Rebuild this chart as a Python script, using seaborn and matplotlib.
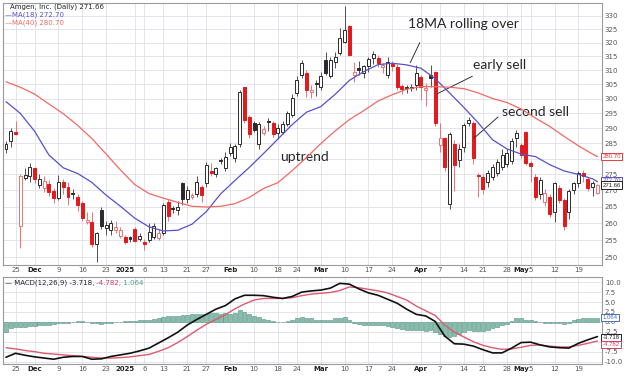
import numpy as np
import pandas as pd
import matplotlib
matplotlib.use("Agg")
import matplotlib.pyplot as plt
import matplotlib.transforms as mtransforms
from matplotlib.ticker import FixedLocator, NullLocator, FuncFormatter
import seaborn as sns

# trading days on the chart (market holidays removed)
holidays = ["2024-11-28", "2024-12-25", "2025-01-01", "2025-01-09",
            "2025-01-20", "2025-02-17", "2025-04-18"]
dates = pd.bdate_range("2024-11-21", "2025-05-23", freq="C", holidays=holidays)

open_px = [283.2, 285.7, 288.7, 259.2, 273.9, 274.4, 277.0, 271.7, 270.8, 272.0,
           269.8, 267.7, 272.6, 271.0, 269.2, 267.9, 266.1, 260.4, 260.3, 253.8,
           263.9, 258.6, 257.9, 258.0, 256.2, 255.9, 255.9, 258.4, 255.4, 254.3,
           254.9, 255.9, 255.6, 257.1, 266.4, 264.7, 263.9, 272.2, 267.2, 267.8,
           268.8, 271.0, 272.2, 276.0, 275.0, 279.6, 277.0, 281.7, 280.3, 284.9,
           304.0, 293.9, 291.7, 284.9, 288.5, 292.3, 291.9, 288.5, 288.8, 291.4,
           294.4, 301.9, 308.3, 309.0, 302.4, 305.3, 304.2, 313.7, 307.8, 313.1,
           316.1, 320.4, 326.0, 308.3, 310.7, 309.0, 311.5, 314.4, 314.4, 311.3,
           308.3, 312.1, 311.3, 304.3, 303.9, 303.7, 304.8, 307.7, 303.1, 308.3,
           309.5, 284.4, 286.6, 265.9, 284.9, 279.5, 283.7, 291.7, 291.9, 274.7,
           274.3, 272.7, 274.3, 275.5, 277.4, 278.4, 279.3, 286.6, 284.4, 288.8,
           278.6, 274.3, 269.0, 266.5, 267.9, 263.3, 270.6, 266.9, 263.3, 270.0,
           272.2, 275.5, 273.7, 271.0, 269.3]
high_px = [285.7, 290.2, 292.3, 275.0, 277.0, 278.5, 277.4, 275.0, 274.5, 273.1,
           270.8, 274.9, 273.6, 272.6, 270.3, 268.9, 266.6, 263.4, 263.4, 257.5,
           264.8, 260.6, 261.0, 260.6, 258.8, 256.6, 256.3, 258.8, 257.0, 255.2,
           260.0, 260.2, 258.4, 266.1, 267.4, 265.2, 266.6, 272.6, 271.3, 269.3,
           274.5, 271.7, 278.8, 278.5, 277.4, 280.3, 282.3, 285.2, 284.7, 303.2,
           304.2, 294.3, 292.3, 292.1, 290.7, 293.3, 292.3, 291.3, 292.3, 295.9,
           301.6, 307.9, 313.8, 310.1, 304.8, 306.6, 309.5, 316.6, 314.9, 316.6,
           325.3, 333.6, 326.5, 313.1, 313.3, 312.0, 314.9, 317.1, 315.5, 312.7,
           314.9, 313.3, 312.2, 305.2, 304.7, 305.2, 311.7, 308.4, 305.4, 311.9,
           309.8, 291.7, 287.2, 288.8, 286.2, 284.7, 291.8, 293.8, 292.3, 275.5,
           275.0, 276.5, 278.4, 279.8, 283.2, 283.2, 286.7, 289.4, 285.2, 289.2,
           279.3, 275.0, 274.1, 270.3, 268.9, 272.6, 271.7, 267.5, 270.3, 272.6,
           276.0, 276.5, 274.1, 272.8, 271.9]
low_px = [281.8, 283.7, 287.7, 252.8, 273.1, 272.6, 272.2, 270.7, 269.6, 268.4,
          266.1, 266.9, 268.9, 265.6, 267.4, 263.7, 260.6, 259.9, 253.0, 248.7,
          258.3, 256.6, 256.6, 257.0, 255.6, 253.9, 254.3, 254.3, 254.7, 252.2,
          254.3, 255.2, 255.0, 256.5, 260.6, 263.2, 262.4, 265.6, 266.1, 267.2,
          267.9, 266.5, 271.2, 274.5, 274.1, 278.3, 276.0, 280.8, 278.8, 283.7,
          291.8, 286.7, 288.7, 283.2, 287.7, 289.2, 287.2, 286.5, 288.2, 290.8,
          293.8, 301.1, 307.3, 300.5, 300.2, 300.8, 303.2, 308.3, 307.4, 310.7,
          315.5, 319.9, 315.0, 306.0, 308.4, 307.4, 309.5, 312.2, 311.1, 309.0,
          307.4, 309.8, 303.2, 301.6, 302.1, 302.7, 303.2, 299.5, 297.4, 304.2,
          290.8, 282.2, 276.0, 264.4, 269.8, 277.4, 282.2, 290.8, 278.3, 267.9,
          268.9, 271.2, 273.1, 274.5, 276.5, 277.4, 278.4, 283.8, 280.3, 277.9,
          272.6, 266.9, 267.4, 265.1, 261.9, 260.3, 266.1, 258.1, 261.4, 268.9,
          271.2, 272.6, 269.8, 268.4, 268.8]
close_px = [284.7, 289.2, 288.2, 274.5, 274.8, 277.4, 273.4, 273.5, 272.9, 269.4,
            267.5, 272.6, 271.2, 268.1, 268.9, 265.4, 261.5, 261.1, 253.9, 257.0,
            259.3, 259.6, 260.0, 259.0, 257.9, 254.5, 255.2, 254.7, 256.3, 254.0,
            257.3, 259.3, 257.0, 265.4, 262.1, 264.4, 265.0, 267.2, 270.0, 268.5,
            272.6, 268.7, 277.9, 275.5, 277.0, 279.3, 280.6, 283.8, 284.2, 302.5,
            292.8, 288.2, 289.4, 291.4, 289.9, 292.1, 288.2, 290.1, 291.4, 295.0,
            300.2, 306.6, 312.5, 303.0, 302.9, 305.1, 307.8, 309.0, 313.7, 314.9,
            321.7, 324.8, 315.6, 309.5, 309.9, 311.4, 314.0, 316.0, 312.5, 311.9,
            313.1, 311.6, 304.0, 303.5, 303.6, 304.2, 309.0, 304.2, 303.7, 307.1,
            291.7, 286.6, 277.4, 288.2, 277.9, 283.2, 291.1, 292.8, 280.3, 274.5,
            270.5, 275.5, 277.4, 278.8, 281.3, 281.8, 285.7, 288.4, 281.2, 278.6,
            277.6, 267.9, 273.2, 269.2, 262.9, 272.4, 266.9, 259.3, 269.8, 272.2,
            275.5, 274.5, 270.6, 272.3, 271.66]

# moving averages, read every 3rd session plus the last one
ma18 = [299.0, 295.0, 289.0, 281.2, 277.1, 275.3, 272.5, 268.5, 265.1, 261.5,
        258.9, 257.7, 257.9, 259.7, 263.5, 268.9, 273.1, 277.2, 281.7, 286.4,
        291.2, 295.4, 297.3, 301.5, 306.4, 309.5, 312.0, 312.5, 311.9, 310.7,
        307.0, 302.0, 297.0, 291.8, 286.2, 283.2, 281.5, 280.7, 278.1, 276.1,
        275.0, 273.6, 272.7]
ma40 = [305.9, 304.0, 301.6, 298.2, 294.9, 291.0, 286.6, 281.5, 276.4, 271.8,
        269.0, 267.6, 266.3, 265.1, 264.9, 265.1, 265.9, 267.8, 270.6, 272.4,
        276.2, 280.4, 284.9, 289.1, 292.9, 295.9, 299.2, 301.4, 303.3, 304.2,
        304.2, 304.0, 303.5, 302.0, 300.1, 298.7, 296.5, 293.4, 290.6, 287.3,
        284.2, 281.5, 280.7]
ma_dates = list(dates[::3]) + [dates[-1]]

# MACD(12,26,9), lines read every 2nd session, histogram every session
macd_line = [-8.9, -7.9, -8.4, -8.8, -9.1, -9.4, -8.9, -8.7, -8.7, -9.4,
             -9.3, -8.7, -8.3, -7.9, -7.3, -6.6, -5.3, -4.0, -2.6, -0.8,
             0.6, 1.9, 3.2, 4.1, 5.8, 6.7, 6.7, 6.6, 6.2, 5.9,
             6.4, 7.5, 7.8, 8.0, 8.5, 9.7, 9.5, 8.3, 7.3, 6.7,
             5.7, 4.7, 3.2, 1.9, 1.5, 0.1, -3.6, -5.5, -5.6, -6.1,
             -7.0, -7.8, -7.8, -6.6, -5.2, -5.1, -5.8, -6.3, -6.5, -6.6,
             -5.4, -4.5, -3.7]
signal_line = [-6.5, -6.8, -7.2, -7.5, -7.9, -8.1, -8.3, -8.5, -8.7, -8.9,
               -9.1, -9.1, -9.0, -8.8, -8.5, -8.2, -7.4, -6.5, -5.2, -3.7,
               -2.1, -0.6, 0.6, 1.8, 3.3, 4.5, 5.5, 5.9, 5.9, 5.9,
               6.1, 6.6, 7.0, 7.2, 7.4, 7.9, 8.8, 8.6, 8.2, 7.8,
               7.3, 6.4, 5.5, 4.0, 2.8, 1.6, -0.8, -2.6, -3.8, -5.0,
               -5.9, -6.5, -6.9, -6.8, -6.4, -5.9, -5.8, -6.1, -6.3, -6.3,
               -5.9, -5.4, -4.8]
macd_dates = dates[::2]
macd_hist = [-2.5, -1.6, -1.2, -1.3, -1.2, -1.0, -1.0, -0.9, -0.9, -0.7,
             -0.6, -0.4, -0.3, -0.2, -0.1, 0.1, 0.1, -0.1, -0.3, -0.4,
             -0.5, -0.4, -0.2, -0.1, 0.05, 0.2, 0.3, 0.2, 0.4, 0.5,
             0.6, 0.8, 1.1, 1.3, 1.4, 1.5, 1.6, 1.7, 1.8, 1.9,
             1.9, 2.0, 2.1, 2.2, 2.2, 2.1, 2.2, 2.1, 2.2, 2.9,
             2.6, 2.0, 1.5, 1.2, 0.8, 0.5, 0.2, 0.05, -0.1, 0.2,
             0.5, 0.9, 1.3, 1.1, 0.9, 0.6, 0.4, 0.5, 0.6, 0.9,
             1.1, 1.2, 0.6, -0.3, -0.6, -0.8, -0.8, -0.9, -0.9, -0.9,
             -1.0, -1.2, -1.5, -1.7, -2.0, -2.1, -2.0, -2.1, -2.2, -2.0,
             -2.5, -3.0, -3.6, -3.8, -3.5, -3.1, -2.5, -2.0, -2.2, -2.4,
             -2.2, -2.0, -1.6, -1.3, -0.9, -0.5, 0.3, 1.0, 0.9, 0.6,
             0.5, 0.1, -0.1, -0.3, -0.4, -0.4, -0.3, -0.5, -0.2, 0.4,
             0.8, 0.9, 0.9, 1.0, 1.064]

tick_dates = ["2024-11-25", "2024-12-02", "2024-12-09", "2024-12-16", "2024-12-23",
              "2025-01-02", "2025-01-06", "2025-01-13", "2025-01-21", "2025-01-27",
              "2025-02-03", "2025-02-10", "2025-02-18", "2025-02-24", "2025-03-03",
              "2025-03-10", "2025-03-17", "2025-03-24", "2025-04-01", "2025-04-07",
              "2025-04-14", "2025-04-21", "2025-04-28", "2025-05-01", "2025-05-05",
              "2025-05-12", "2025-05-19"]
tick_labels = ["25", "Dec", "9", "16", "23", "2025", "6", "13", "21", "27", "Feb",
               "10", "18", "24", "Mar", "10", "17", "24", "Apr", "7", "14", "21",
               "28", "May", "5", "12", "19"]
month_labels = {"Dec", "2025", "Feb", "Mar", "Apr", "May"}

RED = "#e3191c"
PINK = "#ef7272"
DARK = "#2a2a2a"
BLUE = "#5a4fc8"
SALMON = "#f06a62"
GRID = "#dde1ea"
FRAME = "#9a9a9a"

sns.set_style("white")
plt.rcParams["font.family"] = ["DejaVu Sans"]

pos = np.arange(len(dates))
o = np.array(open_px)
h = np.array(high_px)
lo = np.array(low_px)
c = np.array(close_px)
prev_c = np.r_[o[0], c[:-1]]
down = c < prev_c
hollow = c >= o
body_col = np.where(down, np.where(hollow, PINK, RED), DARK)
wick_col = np.where(down, PINK, "#505050")
face_col = np.where(hollow, "white", body_col)

tick_pos = dates.get_indexer(pd.to_datetime(tick_dates))
ma_pos = dates.get_indexer(pd.DatetimeIndex(ma_dates))
macd_pos = dates.get_indexer(macd_dates)
xlim = (-0.63, len(dates) - 1 + 0.95)

fig = plt.figure(figsize=(6.24, 3.76), dpi=100)
ax = fig.add_axes([0.0048, 0.2952, 0.9599, 0.6968])
axm = fig.add_axes([0.0048, 0.0319, 0.9599, 0.2314])

# ---- price panel (log scale like the source chart)
ax.set_yscale("log")
ax.set_ylim(247.8, 334.9)
ax.set_xlim(*xlim)
ax.vlines(pos, lo, h, colors=wick_col, linewidth=0.7, zorder=2)
ax.bar(pos, np.maximum(np.abs(c - o), 0.15), bottom=np.minimum(o, c), width=0.62,
       color=face_col, edgecolor=body_col, linewidth=0.7, zorder=3)
sns.lineplot(x=ma_pos, y=ma18, ax=ax, color=BLUE, linewidth=0.9, zorder=4)
sns.lineplot(x=ma_pos, y=ma40, ax=ax, color=SALMON, linewidth=0.9, zorder=4)

ax.yaxis.set_major_locator(FixedLocator(np.arange(250, 331, 5)))
ax.yaxis.set_minor_locator(NullLocator())
# 280 sits under the MA(40) value box
ax.yaxis.set_major_formatter(FuncFormatter(lambda v, _: "" if round(v) == 280 else f"{v:.0f}"))
ax.yaxis.tick_right()

# ---- MACD panel
axm.set_xlim(*xlim)
axm.set_ylim(-10.6, 11.3)
axm.bar(pos, macd_hist, width=0.8, color="#86bdad", edgecolor="#55917f",
        linewidth=0.4, zorder=2)
sns.lineplot(x=macd_pos, y=signal_line, ax=axm, color="#de5a6e", linewidth=1.0, zorder=3)
sns.lineplot(x=macd_pos, y=macd_line, ax=axm, color="#111111", linewidth=1.2, zorder=4)
axm.yaxis.set_major_locator(FixedLocator(np.arange(-10, 10.1, 2.5)))
axm.yaxis.set_major_formatter(FuncFormatter(lambda v, _: "" if abs(v + 5) < 0.01 else f"{v:.1f}"))
axm.yaxis.tick_right()

for a in (ax, axm):
    a.set_xlabel("")
    a.set_ylabel("")
    a.set_xticks(tick_pos)
    a.set_xticklabels(tick_labels)
    for lab in a.get_xticklabels():
        if lab.get_text() in month_labels:
            lab.set_fontweight("bold")
            lab.set_color("#222222")
        else:
            lab.set_color("#555555")
        if lab.get_text() == "2025":
            # keeps "2025" clear of the "6" just after it
            lab.set_horizontalalignment("right")
    a.tick_params(axis="x", length=0, pad=1.5, labelsize=5)
    a.tick_params(axis="y", length=0, pad=2, labelsize=5, labelcolor="#555555")
    a.grid(True, color=GRID, linewidth=0.6)
    a.set_axisbelow(True)
    for s in a.spines.values():
        s.set_color(FRAME)
        s.set_linewidth(0.8)

# header texts
ax.text(0.012, 0.985, "Amgen, Inc. (Daily) 271.66", transform=ax.transAxes,
        fontsize=5, color="#222222", va="center")
ax.text(0.003, 0.954, "\u2014MA(18) 272.70", transform=ax.transAxes,
        fontsize=5, color=BLUE, va="center")
ax.text(0.003, 0.925, "\u2014MA(40) 280.70", transform=ax.transAxes,
        fontsize=5, color=SALMON, va="center")

t1 = axm.text(0.003, 0.93, "\u2014 MACD(12,26,9) -3.718,", transform=axm.transAxes,
              fontsize=5, color="#222222", va="center")
t2 = axm.annotate(" -4.782,", xy=(1, 0), xycoords=t1, va="bottom",
                  fontsize=5, color="#d04060")
axm.annotate(" 1.064", xy=(1, 0), xycoords=t2, va="bottom",
             fontsize=5, color="#4f9c8a")

# value boxes on the right axis
def value_box(a, y, txt, col):
    tr = mtransforms.blended_transform_factory(a.transAxes, a.transData)
    a.text(1.001, y, txt, transform=tr, fontsize=4.3, family="Liberation Sans",
           color=col, va="center", ha="left", zorder=10,
           bbox=dict(boxstyle="square,pad=0.18", fc="white", ec=col, lw=0.7))

value_box(ax, 280.7, "280.70", "#e04040")
value_box(ax, 273.2, "272.70", BLUE)
value_box(ax, 271.66, "271.66", "#222222")
value_box(axm, 1.064, "1.064", "#4a72b0")
value_box(axm, -4.0, "-3.718", "#222222")
value_box(axm, -5.7, "-4.782", "#d04060")

# annotations
ann_font = ["Lato", "DejaVu Sans"]
line_kw = dict(arrowstyle="-", color="#333333", lw=0.7)
ax.annotate("", xy=(84.5, 311.8), xytext=(87.0, 320.9), arrowprops=line_kw)
ax.annotate("", xy=(89.9, 301.3), xytext=(98.3, 308.3), arrowprops=line_kw)
ax.annotate("", xy=(97.7, 286.1), xytext=(103.6, 294.4), arrowprops=line_kw)
ax.text(84.3, 326.9, "18MA rolling over", fontsize=10, family=ann_font, va="center")
ax.text(97.9, 311.8, "early sell", fontsize=10, family=ann_font, va="center")
ax.text(104.0, 295.4, "second sell", fontsize=10, family=ann_font, va="center")
ax.text(57.4, 280.5, "uptrend", fontsize=10, family=ann_font, va="center")

fig.savefig("out.png", dpi=100)
